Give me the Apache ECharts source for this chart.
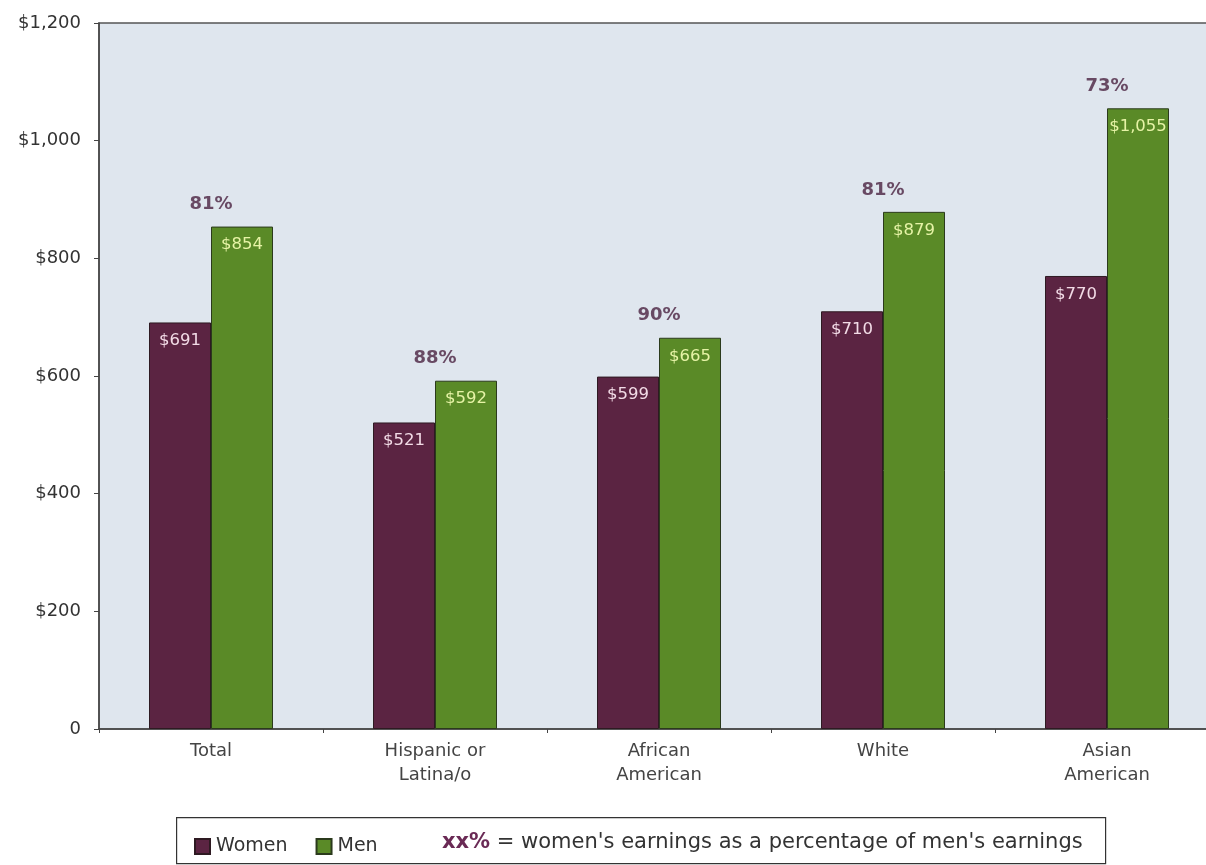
<!DOCTYPE html>
<html>
<head>
<meta charset="utf-8">
<title>Weekly earnings by race/ethnicity and gender</title>
<script src="https://cdn.jsdelivr.net/npm/echarts@6/dist/echarts.min.js"></script>
<style>
  html, body { margin: 0; padding: 0; background: #ffffff; overflow: hidden; }
  /* the plot runs slightly past the right edge of the window */
  #chart { width: 1230px; height: 865px; }
</style>
</head>
<body>
<div id="chart"></div>
<script>
// Median weekly earnings, women vs. men, by group
const categories = ['Total', 'Hispanic or\nLatina/o', 'African\nAmerican', 'White', 'Asian\nAmerican'];
const women = [691, 521, 599, 710, 770];
const men = [854, 592, 665, 879, 1055];
// Women's earnings as a percentage of men's earnings
const ratioPct = [81, 88, 90, 81, 73];
const yTickLabels = ['0', '$200', '$400', '$600', '$800', '$1,000', '$1,200'];

const FONT = 'DejaVu Sans';
const WOMEN_COLOR = '#5b2442';
const MEN_COLOR = '#5a8a27';

const money = v => '$' + v.toLocaleString('en-US');

const chart = echarts.init(document.getElementById('chart'));
chart.setOption({
  animation: false,
  backgroundColor: '#ffffff',
  textStyle: { fontFamily: FONT },
  grid: {
    left: 99, top: 23, width: 1120, height: 706,
    show: true, backgroundColor: '#dfe6ee', borderColor: '#555555', borderWidth: 1.5
  },
  legend: {
    data: ['Women', 'Men'],
    left: 189, top: 832,
    icon: 'rect', itemWidth: 15, itemHeight: 15, itemGap: 28,
    textStyle: { fontFamily: FONT, fontSize: 19, color: '#333333', padding: [0, 0, 0, 1] }
  },
  xAxis: {
    type: 'category',
    data: categories,
    axisLine: { lineStyle: { color: '#444444', width: 1.5 } },
    axisTick: { show: true, length: 4, lineStyle: { color: '#444444' } },
    axisLabel: { fontFamily: FONT, fontSize: 18, color: '#444444', margin: 10, lineHeight: 24 }
  },
  yAxis: {
    type: 'value',
    min: 0, max: 1200, interval: 200,
    splitLine: { show: false },
    axisLine: { show: true, lineStyle: { color: '#444444', width: 1.5 } },
    axisTick: { show: true, length: 5, lineStyle: { color: '#444444' } },
    axisLabel: {
      fontFamily: FONT, fontSize: 18, color: '#333333', margin: 18,
      formatter: v => yTickLabels[Math.round(v / 200)]
    }
  },
  series: [
    {
      name: 'Women', type: 'bar', data: women,
      barWidth: 62, barGap: '0%',
      itemStyle: { color: WOMEN_COLOR, borderColor: '#2e1a22', borderWidth: 1 },
      label: {
        show: true, position: 'insideTop', distance: 10,
        fontFamily: FONT, fontSize: 16.5, color: '#f2dbe6',
        formatter: p => money(p.value)
      }
    },
    {
      name: 'Men', type: 'bar', data: men,
      barWidth: 62,
      itemStyle: { color: MEN_COLOR, borderColor: '#2b3a1c', borderWidth: 1 },
      label: {
        show: true, position: 'insideTop', distance: 10,
        fontFamily: FONT, fontSize: 16.5, color: '#e6f3a6',
        formatter: p => money(p.value)
      }
    },
    {
      // ratio labels sitting above each pair of bars
      name: 'ratio', type: 'scatter', symbolSize: 0,
      data: men.map((v, i) => ({ value: v, pct: ratioPct[i] })),
      silent: true,
      label: {
        show: true, position: 'top', distance: 13,
        fontFamily: FONT, fontSize: 18, fontWeight: 'bold', color: '#4a2240',
        formatter: p => p.data.pct + '%'
      }
    }
  ],
  graphic: [
    {
      type: 'rect', left: 176, top: 817, silent: true,
      shape: { width: 929, height: 46 },
      style: { fill: '#ffffff', stroke: '#333333', lineWidth: 1.2 },
      z: -1
    },
    {
      type: 'text', left: 442, top: 832,
      style: {
        text: '{b|xx%} = women\'s earnings as a percentage of men\'s earnings',
        fontFamily: FONT, fontSize: 21, fill: '#333333',
        rich: { b: { fontFamily: FONT, fontSize: 21, fontWeight: 'bold', fill: '#6a2a55' } }
      }
    }
  ]
});
</script>
</body>
</html>
